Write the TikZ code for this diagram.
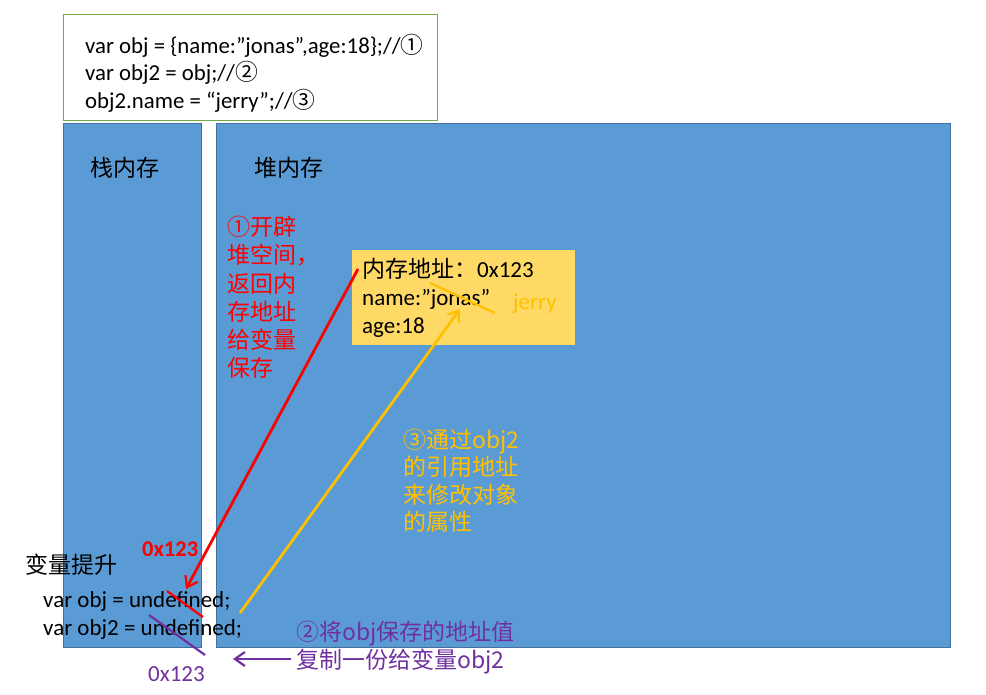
\documentclass[tikz,border=0pt]{standalone}
\usepackage{fontspec}
\setmainfont{Carlito}
\newfontfamily\cjk{Noto Sans CJK SC}
\usetikzlibrary{arrows.meta}
\definecolor{memblue}{HTML}{5B9BD5}
\definecolor{memedge}{HTML}{41719C}
\definecolor{boxyellow}{HTML}{FFD966}
\definecolor{gold}{HTML}{FFC000}
\definecolor{codegreen}{HTML}{70AD47}
\definecolor{purp}{HTML}{7030A0}
\tikzset{
  mem/.style={draw=memedge, fill=memblue, line width=0.8pt, anchor=north west, inner sep=0pt},
  txt/.style={inner sep=0pt, font=\fontsize{23}{28}\selectfont, align=left},
  arr/.style={line width=2.8pt, -{Straight Barb[length=10pt,width=14pt,line width=2.2pt]}},
  strike/.style={line width=2.2pt},
}
\begin{document}
\begin{tikzpicture}[x=1pt,y=-1pt]
\useasboundingbox (0,0) rectangle (986,695);
\fill[white] (0,0) rectangle (986,695);
% code box
\node[draw=codegreen, line width=0.8pt, fill=white, anchor=north west, minimum width=374pt, minimum height=106pt, inner sep=0pt] (code) at (63,14) {};
\node[txt, anchor=west, font=\fontsize{22.8}{27.5}\selectfont] (codetxt) at (85,73) {var obj = \{name:”jonas”,age:18\};//{\cjk ①}\\var obj2 = obj;//{\cjk ②}\\obj2.name = “jerry”;//{\cjk ③}};
% memory areas
\node[mem, minimum width=138pt, minimum height=524pt] (stack) at (63,123) {};
\node[mem, minimum width=734pt, minimum height=524pt] (heap) at (216,123) {};
\node[txt, anchor=west, font=\cjk\fontsize{23}{28}\selectfont] (stacklbl) at (90,168) {栈内存};
\node[txt, anchor=west, font=\cjk\fontsize{23}{28}\selectfont] (heaplbl) at (254,168) {堆内存};
% step 1 text
\node[txt, anchor=north west, text=red, font=\cjk\fontsize{23}{28.2}\selectfont] (step1) at (227,216) {①开辟\\堆空间，\\返回内\\存地址\\给变量\\保存};
% heap object
\node[fill=boxyellow, anchor=north west, minimum width=223pt, minimum height=95pt, inner sep=0pt] (obj) at (352,250) {};
\node[txt, anchor=north west, font=\fontsize{23}{28}\selectfont] (objtxt) at (362,258) {{\cjk 内存地址：}0x123\\name:”jonas”\\age:18};
\node[txt, anchor=west, text=gold, font=\fontsize{23}{28}\selectfont] (jerry) at (513,304) {jerry};
\coordinate (ys1) at (430,283);
\coordinate (ys2) at (495,313);
\draw[strike, gold] (ys1) -- (ys2);
% step 3 text
\node[txt, anchor=north west, text=gold, font=\cjk\fontsize{23}{27.3}\selectfont] (step3) at (403,429) {③通过obj2\\的引用地址\\来修改对象\\的属性};
% stack contents
\node[txt, anchor=west, text=red, font=\bfseries\fontsize{22.5}{28}\selectfont] (addr1) at (142,549) {0x123};
\node[txt, anchor=west, font=\cjk\fontsize{23}{28}\selectfont] (hoist) at (25,565) {变量提升};
\node[txt, anchor=north west, font=\fontsize{23}{28}\selectfont] (vars) at (43,591) {var obj = undefined;\\var obj2 = undefined;};
\coordinate (rs1) at (167,591);
\coordinate (rs2) at (203,617);
\draw[strike, red] (rs1) -- (rs2);
\coordinate (ps1) at (149,615);
\coordinate (ps2) at (205,655);
\draw[strike, purp] (ps1) -- (ps2);
\node[txt, anchor=west, text=purp, font=\fontsize{23}{28}\selectfont] (addr2) at (148,674) {0x123};
% step 2 text
\node[txt, anchor=north west, text=purp, font=\cjk\fontsize{23}{28}\selectfont] (step2) at (296,621) {②将obj保存的地址值\\复制一份给变量obj2};
% arrows
\coordinate (rA) at (358,269);
\coordinate (rB) at (186,589);
\draw[arr, red] (rA) -- (rB);
\coordinate (yA) at (240,613);
\coordinate (yB) at (460,309);
\draw[arr, gold] (yA) -- (yB);
\coordinate (pA) at (291,659);
\coordinate (pB) at (233,659);
\draw[arr, purp] (pA) -- (pB);
\end{tikzpicture}
\end{document}
